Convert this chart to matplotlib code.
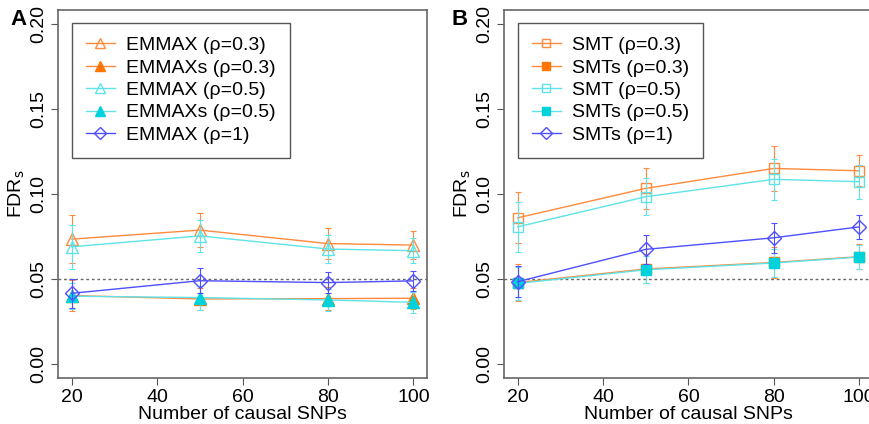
import matplotlib.pyplot as plt

plt.rcParams['font.family'] = ['Liberation Sans', 'DejaVu Sans']

n_snps = [20, 50, 80, 100]

# panel A: EMMAX
emmax_03 = [0.0735, 0.0788, 0.0709, 0.0700]
emmax_03_err = [0.0143, 0.0100, 0.0090, 0.0080]
emmaxs_03 = [0.0404, 0.0384, 0.0386, 0.0388]
emmaxs_03_err = [0.0090, 0.0065, 0.0068, 0.0062]
emmax_05 = [0.0690, 0.0754, 0.0677, 0.0667]
emmax_05_err = [0.0130, 0.0095, 0.0083, 0.0075]
emmaxs_05 = [0.0400, 0.0392, 0.0378, 0.0364]
emmaxs_05_err = [0.0075, 0.0070, 0.0065, 0.0060]
emmax_1 = [0.0417, 0.0491, 0.0480, 0.0490]
emmax_1_err = [0.0085, 0.0072, 0.0064, 0.0060]

# panel B: SMT
smt_03 = [0.0860, 0.1033, 0.1150, 0.1136]
smt_03_err = [0.0150, 0.0120, 0.0130, 0.0092]
smts_03 = [0.0480, 0.0560, 0.0598, 0.0632]
smts_03_err = [0.0110, 0.0085, 0.0093, 0.0072]
smt_05 = [0.0807, 0.0984, 0.1086, 0.1072]
smt_05_err = [0.0146, 0.0110, 0.0122, 0.0100]
smts_05 = [0.0475, 0.0555, 0.0595, 0.0630]
smts_05_err = [0.0095, 0.0080, 0.0085, 0.0070]
smts_1 = [0.0485, 0.0675, 0.0743, 0.0807]
smts_1_err = [0.0090, 0.0087, 0.0088, 0.0072]

orange = '#FF8A3D'
orange_fill = '#FF7700'
cyan = '#5EE3E8'
cyan_fill = '#00D2DC'
blue = '#4F4FFF'


def draw_series(ax, y, err, color, marker, filled, label, ms, fill=None):
    ax.errorbar(n_snps, y, yerr=err, fmt='none', ecolor=color, elinewidth=0.8,
                capsize=2, capthick=0.8)
    ax.plot(n_snps, y, color=color, lw=1, marker=marker, ms=ms,
            mfc=(fill if filled else 'none'), mec=(fill if filled else color),
            mew=1, label=label)


def style_axes(ax):
    ax.set_xlim(16.8, 103.2)
    ax.set_ylim(-0.008, 0.208)
    ax.set_xticks([20, 40, 60, 80, 100])
    ax.set_yticks([0.0, 0.05, 0.10, 0.15, 0.20])
    ax.set_yticklabels(['0.00', '0.05', '0.10', '0.15', '0.20'],
                       rotation=90, va='center')
    ax.tick_params(labelsize=14, length=5, width=0.8, color='#555555', pad=3)
    for s in ax.spines.values():
        s.set_color('#666666')
        s.set_linewidth(1.2)
    ax.axhline(0.05, color='#666666', lw=1, ls=(0, (2, 2)), zorder=0)
    ax.set_xlabel('Number of causal SNPs', fontsize=14, labelpad=0)
    ax.set_ylabel(r'FDR$_\mathrm{s}$', fontsize=14, labelpad=2)
    leg = ax.legend(loc='upper left', bbox_to_anchor=(0.038, 0.965),
                    borderaxespad=0, fontsize=14, fancybox=False,
                    edgecolor='#555555', handlelength=1.5, handletextpad=0.6,
                    labelspacing=0.25, borderpad=0.7, framealpha=1,
                    markerscale=0.85)
    leg.get_frame().set_linewidth(1.0)


fig = plt.figure(figsize=(8.7, 4.24), dpi=100)
ax_a = fig.add_axes([0.0667, 0.1085, 0.4241, 0.868])
ax_b = fig.add_axes([0.5793, 0.1085, 0.4241, 0.868])

draw_series(ax_a, emmax_03, emmax_03_err, orange, '^', False, 'EMMAX (ρ=0.3)', 8.5)
draw_series(ax_a, emmaxs_03, emmaxs_03_err, orange, '^', True, 'EMMAXs (ρ=0.3)', 8.5, orange_fill)
draw_series(ax_a, emmax_05, emmax_05_err, cyan, '^', False, 'EMMAX (ρ=0.5)', 8.5)
draw_series(ax_a, emmaxs_05, emmaxs_05_err, cyan, '^', True, 'EMMAXs (ρ=0.5)', 8.5, cyan_fill)
draw_series(ax_a, emmax_1, emmax_1_err, blue, 'D', False, 'EMMAX (ρ=1)', 7)
style_axes(ax_a)

draw_series(ax_b, smt_03, smt_03_err, orange, 's', False, 'SMT (ρ=0.3)', 7.5)
draw_series(ax_b, smts_03, smts_03_err, orange, 's', True, 'SMTs (ρ=0.3)', 7.5, orange_fill)
draw_series(ax_b, smt_05, smt_05_err, cyan, 's', False, 'SMT (ρ=0.5)', 7.5)
draw_series(ax_b, smts_05, smts_05_err, cyan, 's', True, 'SMTs (ρ=0.5)', 7.5, cyan_fill)
draw_series(ax_b, smts_1, smts_1_err, blue, 'D', False, 'SMTs (ρ=1)', 7)
style_axes(ax_b)

fig.text(0.012, 0.94, 'A', fontsize=16, fontweight='bold')
fig.text(0.519, 0.94, 'B', fontsize=16, fontweight='bold')

fig.savefig('out.png', dpi=100)
